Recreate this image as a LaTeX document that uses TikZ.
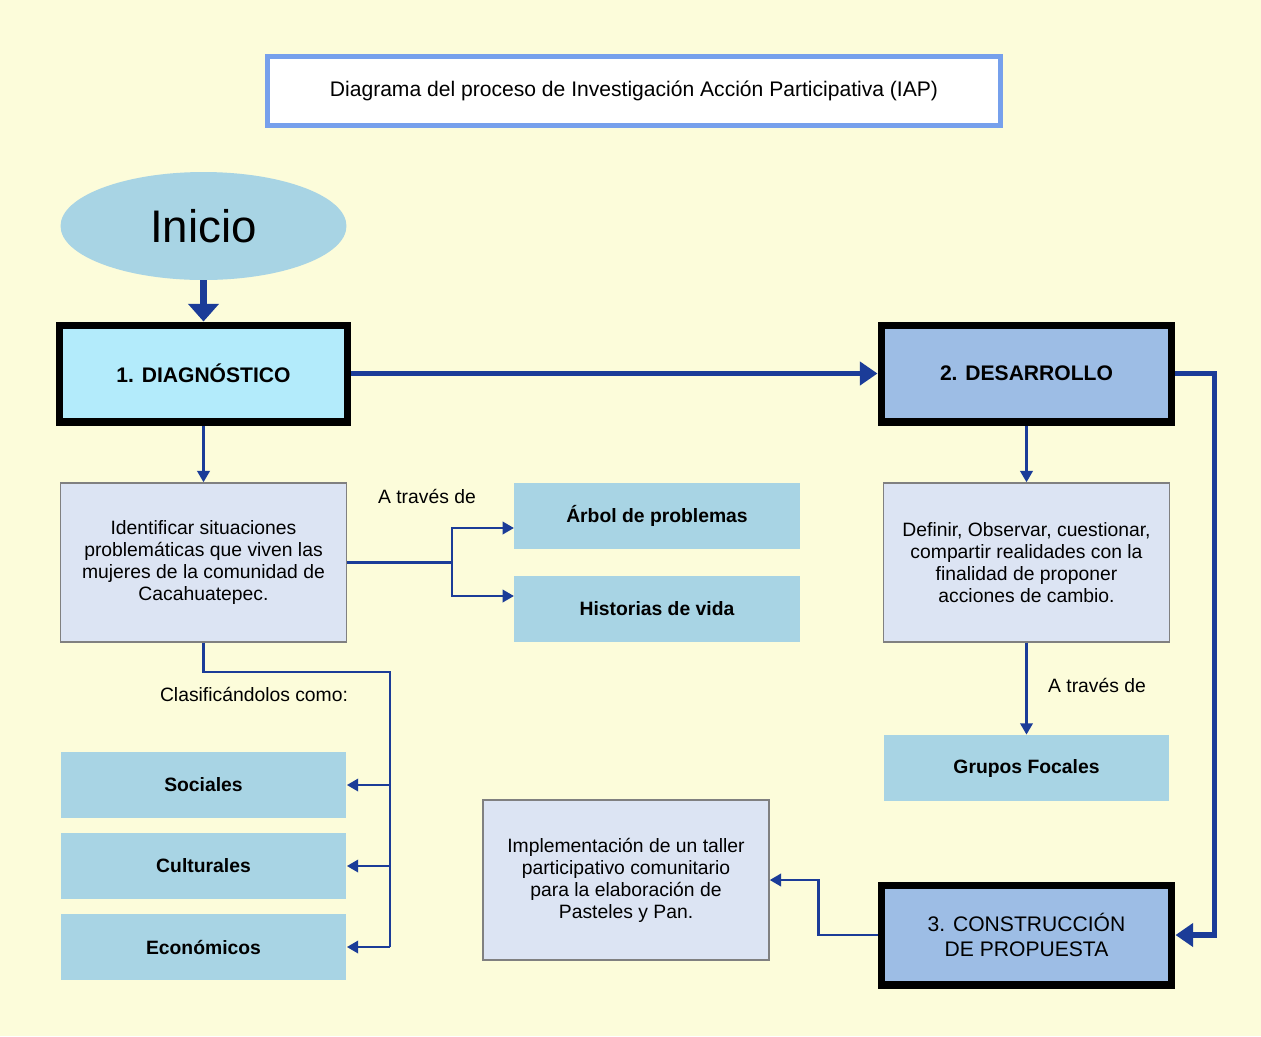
\documentclass[tikz,border=0pt]{standalone}
\usepackage{fontspec}
\setmainfont{Liberation Sans}
\usetikzlibrary{shapes.geometric,arrows.meta}
\definecolor{fondo}{HTML}{FCFCDA}
\definecolor{marco}{HTML}{76A0EC}
\definecolor{cielo}{HTML}{A8D4E4}
\definecolor{celeste}{HTML}{B3EBFB}
\definecolor{azulado}{HTML}{9DBDE5}
\definecolor{lila}{HTML}{DCE4F3}
\definecolor{flecha}{HTML}{1B3C98}
\begin{document}
\begin{tikzpicture}
[
 x=0.02cm, y=-0.02cm,
 every node/.style ={font=\fontsize{11}{12.5}\selectfont, inner sep=1mm},
 T/.style={rectangle, draw=marco, line width=3pt, fill=white, minimum width=14.66cm, minimum height=1.39cm, font=\fontsize{12}{14}\selectfont},
 E/.style={ellipse, fill=cielo, minimum width=5.72cm, minimum height=2.16cm, font=\fontsize{26}{30}\selectfont},
 P1/.style={rectangle, draw=black, line width=4pt, fill=celeste, minimum width=5.76cm, minimum height=1.94cm, align=center, font=\fontsize{12}{14}\selectfont\bfseries},
 P2/.style={P1, fill=azulado, minimum width=5.82cm},
 D/.style={rectangle, draw=black!50, line width=0.8pt, fill=lila, minimum width=5.72cm, minimum height=3.18cm, align=center},
 M/.style={rectangle, fill=cielo, minimum width=5.72cm, minimum height=1.32cm, font=\fontsize{11}{13}\selectfont\bfseries},
 A0/.style={draw=flecha, line width=1.6pt},
 A1/.style={draw=flecha, line width=3.2pt, -{Triangle[length=10pt,width=13pt]}},
 A2/.style={draw=flecha, line width=1.6pt, -{Triangle[length=6.5pt,width=7pt]}}
 ],
 %
\fill[fondo] (0,0) rectangle (1261,1036);
\useasboundingbox (0,0) rectangle (1261,1036);
%
\node [T]  (tit)   at ( 634, 91)  {Diagrama del proceso de Investigación Acción Participativa (IAP)};
\node [E]  (ini)   at ( 203.5, 226)  {Inicio};
%
\node [P1] (diag)  at ( 203.5, 373.5)  {1. DIAGNÓSTICO};
\node [P2] (des)   at ( 1026.5, 373.5)  {2. DESARROLLO};
\node [P2, minimum height=2cm, font=\fontsize{12}{14}\selectfont] (cons)  at ( 1026.5, 935)  {3. CONSTRUCCIÓN\\DE PROPUESTA};
%
\node [D]  (ident) at ( 203.5, 562.5)  {Identificar situaciones\\problemáticas que viven las\\mujeres de la comunidad de\\Cacahuatepec.};
\node [D]  (defin) at ( 1026.5, 562.5)  {Definir, Observar, cuestionar,\\compartir realidades con la\\finalidad de proponer\\acciones de cambio.};
\node [D, minimum height=3.2cm]  (impl)  at ( 626, 880)  {Implementación de un taller\\participativo comunitario\\para la elaboración de\\Pasteles y Pan.};
%
\node [M]  (arbol) at ( 657, 516)  {Árbol de problemas};
\node [M]  (hist)  at ( 657, 609)  {Historias de vida};
\node [M]  (grup)  at ( 1026.5, 768)  {Grupos Focales};
\node [M]  (soc)   at ( 203.5, 785)  {Sociales};
\node [M]  (cult)  at ( 203.5, 866)  {Culturales};
\node [M]  (econ)  at ( 203.5, 947)  {Económicos};
%
\node (via1)  at ( 427, 496)  {A través de};
\node (via2)  at ( 1097, 685)  {A través de};
\node (clas)  at ( 254, 694)  {Clasificándolos como:};
%
\coordinate (forkA)  at ( 452, 562.5);
\coordinate (toArb)  at ( 514, 528);
\coordinate (toHis)  at ( 514, 596);
\coordinate (busT)   at ( 390, 672);
\coordinate (busB)   at ( 390, 947);
%
\draw [A1, line width=4pt, -{Triangle[length=10pt,width=17pt]}]  (ini.south)  -- (diag.north) ;
\draw [A1]  (diag.east) -- (des.west) ;
\draw [A1]  (des.east) -- ++(39,0) |- (cons.east) ;
%
\draw [A2]  (diag.south) -- (ident.north) ;
\draw [A0]  (ident.east) -- (forkA) ;
\draw [A2]  (forkA) |- (toArb) ;
\draw [A2]  (forkA) |- (toHis) ;
%
\draw [A0]  (ident.south) |- (busT) -- (busB) ;
\draw [A2]  (busT |- soc.east) -- (soc.east) ;
\draw [A2]  (busT |- cult.east) -- (cult.east) ;
\draw [A2]  (busB) -- (econ.east) ;
%
\draw [A2]  (des.south) -- (defin.north) ;
\draw [A2]  (defin.south) -- (grup.north) ;
\draw [A2]  (cons.west) -- ++(-59,0) |- (impl.east) ;
%
\end{tikzpicture}
\end{document}
